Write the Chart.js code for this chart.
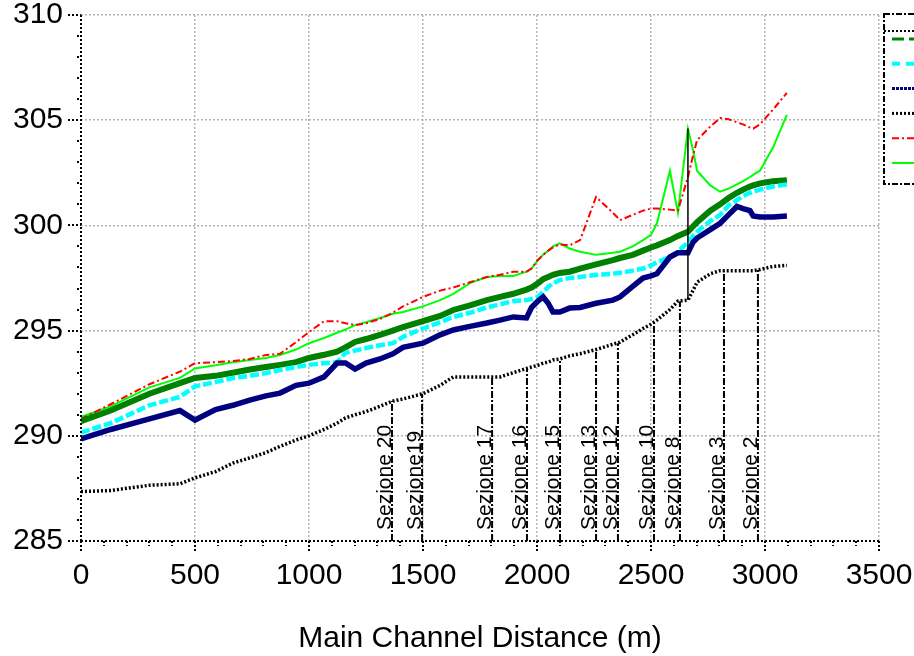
<!DOCTYPE html>
<html>
<head>
<meta charset="utf-8">
<script src="https://cdn.jsdelivr.net/npm/chart.js@4"></script>
<style>
  html, body { margin: 0; padding: 0; background: #fff; }
  #wrap { width: 914px; height: 656px; }
</style>
</head>
<body>
<div id="wrap"><canvas id="profile"></canvas></div>
<script>
// main channel stations (m)
const distances = [0, 130, 300, 434, 500, 590, 666, 740, 811, 873,
  943, 1000, 1066, 1123, 1160, 1202, 1250, 1311, 1368, 1412,
  1500, 1575, 1633, 1706, 1780, 1838, 1896, 1954, 1976, 2004,
  2027, 2049, 2070, 2100, 2143, 2189, 2259, 2333, 2364, 2420,
  2465, 2500, 2526, 2583, 2618, 2662, 2684, 2702, 2760, 2803,
  2840, 2877, 2904, 2934, 2948, 2978, 3035, 3096];

// elevations (m)
const wsGreen = [290.7, 291.2, 292.0, 292.5, 292.75, 292.85, 293.0, 293.15, 293.27, 293.37,
  293.5, 293.7, 293.85, 294.0, 294.2, 294.46, 294.6, 294.8, 295.0, 295.17,
  295.45, 295.7, 295.98, 296.2, 296.45, 296.6, 296.75, 296.95, 297.05, 297.25,
  297.45, 297.55, 297.65, 297.74, 297.8, 297.95, 298.15, 298.35, 298.45, 298.6,
  298.8, 298.95, 299.05, 299.3, 299.5, 299.7, 299.95, 300.15, 300.7, 301.0,
  301.3, 301.55, 301.7, 301.85, 301.9, 302.0, 302.1, 302.15];

const wsCyan = [290.15, 290.6, 291.45, 291.85, 292.35, 292.55, 292.75, 292.85, 292.98, 293.13,
  293.27, 293.37, 293.45, 293.5, 293.94, 294.05, 294.17, 294.3, 294.4, 294.7,
  295.1, 295.4, 295.65, 295.85, 296.1, 296.25, 296.4, 296.45, 296.5, 296.6,
  296.85, 297.07, 297.25, 297.4, 297.5, 297.55, 297.65, 297.7, 297.75, 297.85,
  297.95, 298.1, 298.25, 298.5, 298.75, 299.2, 299.5, 299.7, 300.2, 300.5,
  300.95, 301.2, 301.4, 301.55, 301.6, 301.7, 301.85, 301.95];

const wsNavy = [289.85, 290.3, 290.8, 291.2, 290.75, 291.25, 291.45, 291.7, 291.9, 292.03,
  292.4, 292.5, 292.8, 293.46, 293.46, 293.17, 293.46, 293.65, 293.9, 294.2,
  294.4, 294.8, 295.03, 295.2, 295.36, 295.5, 295.65, 295.6, 296.1, 296.4,
  296.6, 296.3, 295.88, 295.88, 296.07, 296.1, 296.3, 296.45, 296.6, 297.1,
  297.5, 297.6, 297.7, 298.5, 298.7, 298.7, 299.2, 299.4, 299.8, 300.1,
  300.5, 300.9, 300.8, 300.7, 300.45, 300.4, 300.4, 300.45];

const ground = [287.35, 287.4, 287.65, 287.72, 288.0, 288.3, 288.7, 288.95, 289.2, 289.5,
  289.8, 290.0, 290.3, 290.6, 290.85, 291.0, 291.15, 291.4, 291.65, 291.75,
  292.0, 292.4, 292.8, 292.8, 292.8, 292.8, 293.0, 293.2, 293.27, 293.35,
  293.45, 293.5, 293.6, 293.65, 293.8, 293.9, 294.1, 294.35, 294.45, 294.8,
  295.1, 295.3, 295.5, 296.0, 296.4, 296.45, 296.9, 297.3, 297.7, 297.85,
  297.85, 297.85, 297.85, 297.85, 297.85, 297.9, 298.05, 298.1];

const leftBank = [290.8, 291.5, 292.45, 293.05, 293.45, 293.5, 293.55, 293.65, 293.84, 293.9,
  294.45, 294.93, 295.45, 295.45, 295.35, 295.26, 295.35, 295.55, 295.85, 296.15,
  296.6, 296.9, 297.05, 297.3, 297.55, 297.65, 297.8, 297.8, 297.95, 298.36,
  298.6, 298.8, 298.95, 299.1, 299.05, 299.3, 301.35, 300.6, 300.25, 300.5,
  300.7, 300.8, 300.8, 300.75, 300.7, 302.3, 303.3, 304.05, 304.7, 305.1,
  305.05, 304.9, 304.8, 304.65, 304.6, 304.8, 305.5, 306.3];

const rightBank = [290.9, 291.4, 292.3, 292.75, 293.2, 293.35, 293.5, 293.6, 293.7, 293.84,
  294.1, 294.4, 294.65, 294.9, 295.05, 295.26, 295.4, 295.6, 295.8, 295.88,
  296.15, 296.45, 296.75, 297.26, 297.55, 297.6, 297.6, 297.8, 297.95, 298.36,
  298.6, 298.8, 299.0, 299.15, 298.9, 298.75, 298.6, 298.7, 298.75, 299.0,
  299.3, 299.55, 300.1, 302.6, 300.6, 304.6, 303.6, 302.6, 301.9, 301.6,
  301.75, 301.95, 302.1, 302.3, 302.4, 302.6, 303.7, 305.25];

// cross sections
const sectionNames = ["Sezione 20", "Sezione19", "Sezione 17", "Sezione 16", "Sezione 15",
  "Sezione 13", "Sezione 12", "Sezione 10", "Sezione 8", "Sezione 3", "Sezione 2"];
const sectionStations = [1364, 1496, 1803, 1956, 2101, 2259, 2355, 2513, 2627, 2820, 2969];
const sectionBed = [291.65, 292.0, 292.8, 293.2, 293.65, 294.1, 294.4, 295.4, 296.4, 297.85, 297.9];

// structure line
const bridgeStation = 2662;
const bridgeLow = 296.45;
const bridgeHigh = 304.6;

const yTicks = [285, 290, 295, 300, 305, 310];
const FONT = "'Liberation Sans', Arial, sans-serif";

function toPoints(ys) {
    return distances.map((d, i) => ({ x: d, y: ys[i] }));
}

const series = [
    { label: "Ground", data: ground, color: "#000000", width: 3.5, dash: [2, 2] },
    { label: "WS 3", data: wsNavy, color: "#000080", width: 5.5, dash: [] },
    { label: "WS 2", data: wsCyan, color: "#00ffff", width: 4.5, dash: [9, 3] },
    { label: "WS 1", data: wsGreen, color: "#008000", width: 6, dash: [] },
    { label: "Left Levee", data: leftBank, color: "#ff0000", width: 2, dash: [7, 3, 2, 3] },
    { label: "Right Levee", data: rightBank, color: "#00ff00", width: 2, dash: [] },
];

// legend samples (order top to bottom)
const legendSamples = [
    { color: "#008000", width: 3, dash: [12, 5] },
    { color: "#00ffff", width: 4, dash: [8, 6] },
    { color: "#000080", width: 3, dash: [3, 1] },
    { color: "#000000", width: 3, dash: [2, 2] },
    { color: "#ff0000", width: 2, dash: [7, 3, 2, 3] },
    { color: "#00ff00", width: 2, dash: [] },
];

const datasets = [];

sectionStations.forEach((s, i) => {
    datasets.push({
        label: sectionNames[i],
        data: [{ x: s, y: 285 }, { x: s, y: sectionBed[i] }],
        borderColor: "#000",
        borderWidth: 2,
        borderDash: [7, 2, 2, 2],
        pointRadius: 0,
    });
});

datasets.push({
    label: "Bridge",
    data: [{ x: bridgeStation, y: bridgeLow }, { x: bridgeStation, y: bridgeHigh }],
    borderColor: "#000",
    borderWidth: 1.5,
    pointRadius: 0,
});

series.forEach(s => {
    datasets.push({
        label: s.label,
        data: toPoints(s.data),
        borderColor: s.color,
        borderWidth: s.width,
        borderDash: s.dash,
        pointRadius: 0,
        tension: 0,
    });
});

const decorPlugin = {
    id: "decor",
    afterDatasetsDraw(chart) {
        const ctx = chart.ctx;
        const xs = chart.scales.x;
        const ys = chart.scales.y;
        const a = chart.chartArea;

        // section labels
        ctx.save();
        ctx.fillStyle = "#000";
        ctx.font = "21px " + FONT;
        ctx.textAlign = "left";
        ctx.textBaseline = "alphabetic";
        sectionStations.forEach((s, i) => {
            const px = xs.getPixelForValue(s);
            ctx.save();
            ctx.translate(px - 1, a.bottom - 11);
            ctx.rotate(-Math.PI / 2);
            ctx.fillText(sectionNames[i], 0, 0);
            ctx.restore();
        });
        ctx.restore();

        // axes, dotted black
        ctx.save();
        ctx.strokeStyle = "#000";
        ctx.lineWidth = 2;
        ctx.setLineDash([2, 2]);
        function seg(x1, y1, x2, y2) {
            ctx.beginPath();
            ctx.moveTo(x1, y1);
            ctx.lineTo(x2, y2);
            ctx.stroke();
        }
        seg(a.left, a.top, a.left, a.bottom + 1);
        seg(a.left, a.bottom, a.right, a.bottom);
        for (let v = 285; v <= 310; v++) {
            const py = Math.round(ys.getPixelForValue(v));
            if (v % 5 === 0) seg(a.left - 13, py, a.left, py);
            else seg(a.left - 4, py, a.left, py);
        }
        for (let v = 0; v <= 3500; v += 100) {
            const px = Math.round(xs.getPixelForValue(v));
            if (v % 500 === 0) seg(px, a.bottom, px, a.bottom + 11);
            else seg(px, a.bottom, px, a.bottom + 5);
        }
        ctx.restore();

        // legend box (partly off the canvas)
        ctx.save();
        ctx.strokeStyle = "#000";
        ctx.lineWidth = 2;
        ctx.setLineDash([2, 2]);
        const bx = a.right + 5;
        const by = 14;
        const bh = 170;
        ctx.fillStyle = "#fff";
        ctx.fillRect(bx, by, 60, bh);
        ctx.setLineDash([6, 2, 2, 2]);
        ctx.strokeRect(bx, by, 60, bh);
        ctx.setLineDash([2, 2]);
        seg(bx, by + 17, bx + 60, by + 17);
        legendSamples.forEach((s, i) => {
            const ly = by + 25 + i * 24.8;
            ctx.strokeStyle = s.color;
            ctx.lineWidth = s.width;
            ctx.setLineDash(s.dash);
            seg(bx + 8, ly, bx + 60, ly);
        });
        ctx.restore();
    }
};

const ctx = document.getElementById("profile").getContext("2d");

new Chart(ctx, {
    type: "line",
    data: { datasets: datasets },
    options: {
        responsive: true,
        maintainAspectRatio: false,
        animation: false,
        layout: { padding: { top: 15, right: 35, left: 0, bottom: 0 } },
        plugins: {
            legend: { display: false },
            tooltip: { enabled: false },
        },
        scales: {
            x: {
                type: "linear",
                min: 0,
                max: 3500,
                afterFit: s => {
                    s.height = 115;
                    s.paddingLeft = 0;
                    s.paddingRight = 0;
                },
                ticks: {
                    stepSize: 500,
                    color: "#000",
                    font: { family: FONT, size: 30 },
                    padding: 17,
                    maxRotation: 0,
                    callback: v => String(v),
                },
                grid: {
                    drawTicks: false,
                    color: c => (c.tick && c.tick.value === 0 ? "rgba(0,0,0,0)" : "#b4b4b4"),
                    lineWidth: 1.5,
                },
                border: { display: false, dash: [2, 2] },
                title: {
                    display: true,
                    text: "Main Channel Distance (m)",
                    color: "#000",
                    font: { family: FONT, size: 30 },
                    padding: { top: 0, bottom: -1 },
                },
            },
            y: {
                type: "linear",
                min: 285,
                max: 310,
                afterFit: s => {
                    s.width = 81;
                    s.paddingTop = 0;
                    s.paddingBottom = 0;
                },
                afterBuildTicks: s => { s.ticks = yTicks.map(v => ({ value: v })); },
                ticks: {
                    color: "#000",
                    font: { family: FONT, size: 30 },
                    padding: 18,
                    callback: v => String(v),
                },
                grid: {
                    drawTicks: false,
                    color: c => (c.tick && c.tick.value === 285 ? "rgba(0,0,0,0)" : "#b4b4b4"),
                    lineWidth: 1.5,
                },
                border: { display: false, dash: [2, 2] },
            },
        },
    },
    plugins: [decorPlugin],
});
</script>
</body>
</html>
